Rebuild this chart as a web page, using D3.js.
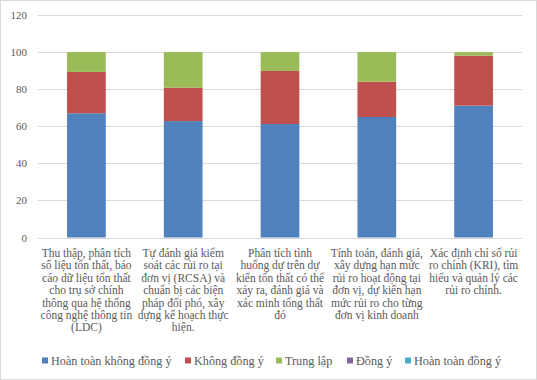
<!DOCTYPE html>
<html><head><meta charset="utf-8">
<script src="https://cdn.jsdelivr.net/npm/d3@7"></script>
<style>body{margin:0;background:#fff}svg{display:block}</style>
</head><body>
<svg id="c" width="537" height="380"></svg>
<script>
const categories = [
  ["Thu thập, phân tích","số liệu  tổn thất, báo","cáo dữ liệu  tổn thất","cho trụ sở chính","thông qua hệ thống","công nghệ thông tin","(LDC)"],
  ["Tự đánh giá kiểm","soát các rủi ro tại","đơn vị (RCSA) và","chuẩn bị các biện","pháp đối phó, xây","dựng kế hoạch thực","hiện."],
  ["Phân tích tình","huống dự trên dự","kiến tổn thất có thể","xảy ra, đánh giá và","xác minh tổng thất","đó"],
  ["Tính toán, đánh giá,","xây dựng hạn mức","rủi ro hoạt động tại","đơn vị, dự kiến hạn","mức rủi ro cho từng","đơn vị kinh doanh"],
  ["Xác định chỉ số rủi","ro chính (KRI), tìm","hiểu và quản lý các","rủi ro chính."]
];
const seriesNames = ["Hoàn toàn không đồng ý","Không đồng ý","Trung lập","Đồng ý","Hoàn toàn đồng ý"];
const hoanToanKhongDongY = [67.0, 62.8, 61.2, 65.0, 71.1];
const khongDongY = [22.3, 18.0, 28.6, 19.0, 27.0];
const trungLap = [10.7, 19.2, 10.2, 16.0, 1.9];
const dongY = [0, 0, 0, 0, 0];
const hoanToanDongY = [0, 0, 0, 0, 0];
const yTicks = [0, 20, 40, 60, 80, 100, 120];
const colors = ["#4F81BD","#C0504D","#9BBB59","#8064A2","#4BACC6"];

(function () {
const seriesValues = [hoanToanKhongDongY, khongDongY, trungLap, dongY, hoanToanDongY];
const rows = categories.map((c, i) => {
  const r = {idx: i};
  seriesNames.forEach((s, j) => r[s] = seriesValues[j][i]);
  return r;
});
const stack = d3.stack().keys(seriesNames)(rows);

const svg = d3.select("#c");
const font = '"Liberation Serif", "Times New Roman", serif';
const textColor = "#595959";

svg.append("rect").attr("x",0.5).attr("y",0.5).attr("width",536).attr("height",379)
  .attr("fill","#fff").attr("stroke","#d9d9d9");

const pLeft = 38, pRight = 522, pTop = 15, pBottom = 237.5;
const x = d3.scaleBand().domain(d3.range(categories.length)).range([pLeft, pRight]).paddingInner(0.6).paddingOuter(0.3);
const y = d3.scaleLinear().domain([0, 120]).range([pBottom, pTop]);

svg.append("g").selectAll("line").data(yTicks).join("line")
  .attr("x1", pLeft).attr("x2", pRight)
  .attr("y1", d => Math.round(y(d)) + 0.5).attr("y2", d => Math.round(y(d)) + 0.5)
  .attr("stroke", "#d9d9d9").attr("stroke-width", 1);

const yAxis = d3.axisLeft(y).tickValues(yTicks).tickSize(0).tickPadding(11);
const yg = svg.append("g").attr("transform", `translate(${pLeft},0)`).call(yAxis);
yg.attr("font-family", font).attr("font-size", 11);
yg.select(".domain").remove();
yg.selectAll("text").attr("font-family", font).attr("font-size", 11).attr("fill", textColor);

svg.append("g").selectAll("g").data(stack).join("g")
  .attr("fill", (d, i) => colors[i])
  .selectAll("rect").data(d => d).join("rect")
  .attr("x", d => x(d.data.idx))
  .attr("width", x.bandwidth())
  .attr("y", d => y(d[1]))
  .attr("height", d => Math.max(0, y(d[0]) - y(d[1])));

const xAxis = d3.axisBottom(x).tickSize(0).tickFormat("");
const xg = svg.append("g").attr("transform", `translate(0,${pBottom})`).call(xAxis);
xg.select(".domain").remove();
const lineH = 12.4;
categories.forEach((lines, i) => {
  const cx = x(i) + x.bandwidth() / 2;
  svg.append("g").selectAll("text").data(lines).join("text")
    .attr("x", cx).attr("y", (l, k) => 257 + k * lineH)
    .attr("text-anchor", "middle")
    .attr("font-family", font).attr("font-size", 11.5).attr("fill", textColor)
    .text(l => l);
});

const legendX = [42, 185, 276, 347, 405];
const lg = svg.append("g");
seriesNames.forEach((s, i) => {
  lg.append("rect").attr("x", legendX[i]).attr("y", 357.5).attr("width", 6).attr("height", 6).attr("fill", colors[i]);
  lg.append("text").attr("x", legendX[i] + 9).attr("y", 365)
    .attr("font-family", font).attr("font-size", 12.2).attr("fill", textColor).text(s);
});
})();
</script>
</body></html>
